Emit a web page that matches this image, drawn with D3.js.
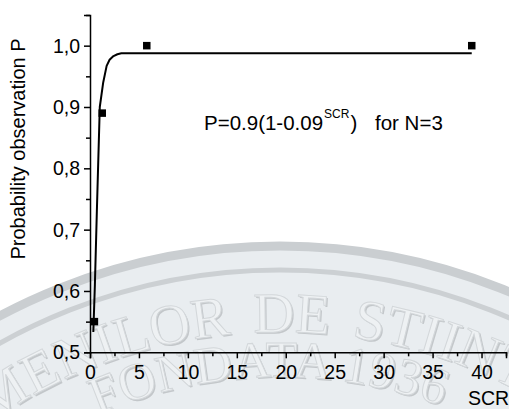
<!DOCTYPE html>
<html>
<head>
<meta charset="utf-8">
<script src="https://cdn.jsdelivr.net/npm/d3@7"></script>
<style>
  html, body { margin: 0; padding: 0; background: #ffffff; }
  svg { display: block; }
  text { font-family: "Liberation Sans", Arial, sans-serif; }
</style>
</head>
<body>
<svg id="chart" width="509" height="409"></svg>
<script>
// ---- data ----
const pointSCR = [0.45, 1.25, 5.8, 39];
const pointP   = [0.55, 0.89, 1.0, 1.0];
const fitSCR = [0.34, 0.5, 0.7, 1.0, 1.35, 1.7, 2.0, 2.4, 2.8, 3.2, 39];
const fitP   = [0.533, 0.61, 0.73, 0.9, 0.94, 0.967, 0.977, 0.983, 0.986, 0.9876, 0.9876];
const xTicks = [0, 5, 10, 15, 20, 25, 30, 35, 40];
const xMinorTicks = [2.5, 7.5, 12.5, 17.5, 22.5, 27.5, 32.5, 37.5, 42.5];
const yTicks = [0.5, 0.6, 0.7, 0.8, 0.9, 1.0];
const yMinorTicks = [0.55, 0.65, 0.75, 0.85, 0.95, 1.05];
const xLabel = "SCR";
const yLabel = "Probability observation P";

const svg = d3.select("#chart");

// ---- watermark seal (background decoration) ----
const wm = svg.append("g").attr("class", "watermark");
const cx = 280, cy = 842, R = 596;
wm.append("circle").attr("cx", cx).attr("cy", cy).attr("r", R)
  .attr("fill", "#e9edf0").attr("stroke", "#caced1").attr("stroke-width", 9);
wm.append("circle").attr("cx", cx).attr("cy", cy).attr("r", R - 24)
  .attr("fill", "none").attr("stroke", "#ccd0d3").attr("stroke-width", 5);
const defs = svg.append("defs");
function arcPath(r) {
  return `M ${cx - r},${cy} A ${r},${r} 0 0 1 ${cx + r},${cy}`;
}
const r1 = 510, r2 = 465;
defs.append("path").attr("id", "arc1").attr("d", arcPath(r1));
defs.append("path").attr("id", "arc2").attr("d", arcPath(r2));
const arcLen1 = Math.PI * r1, arcLen2 = Math.PI * r2;
function sealText(href, offset, size, str, wordSp) {
  [[1.6, "#c3c7ca", "none"], [0, "#eef1f3", "#d3d7da"]].forEach(([d, fill, stroke]) => {
    const t = wm.append("text")
      .style("font-family", "'Liberation Serif', 'DejaVu Serif', serif")
      .attr("font-size", size).attr("word-spacing", wordSp)
      .attr("transform", `translate(${d},${d})`)
      .attr("fill", fill).attr("stroke", stroke).attr("stroke-width", 1);
    t.append("textPath").attr("href", href).attr("startOffset", offset).text(str);
  });
}
sealText("#arc1", arcLen1 / 2 - 34 - 357, 57, "OAMENILOR DE STIINTA", 8);
sealText("#arc2", arcLen2 / 2 - 188, 52, "FONDATA 1936", 0);

// ---- scales ----
const x = d3.scaleLinear().domain([0, 42.5]).range([90, 506]);
const y = d3.scaleLinear().domain([0.5, 1.05]).range([352.3, 15]);

const fmt = d => d3.format(".1f")(d).replace(".", ",");

// x axis
const gx = svg.append("g").attr("transform", `translate(0,${y(0.5)})`);
gx.call(d3.axisBottom(x).tickValues(xTicks).tickSize(6).tickPadding(7).tickFormat(d3.format("d")));
gx.append("g").call(d3.axisBottom(x).tickValues(xMinorTicks).tickSize(4).tickFormat(""))
  .select(".domain").remove();
// y axis
const gy = svg.append("g").attr("transform", `translate(${x(0)},0)`);
gy.call(d3.axisLeft(y).tickValues(yTicks).tickSize(6).tickPadding(4).tickFormat(fmt));
gy.append("g").call(d3.axisLeft(y).tickValues(yMinorTicks).tickSize(4).tickFormat(""))
  .select(".domain").remove();

svg.selectAll(".domain").attr("stroke", "#000").attr("stroke-width", 1.5);
svg.selectAll(".tick line").attr("stroke", "#000").attr("stroke-width", 1.5);
svg.selectAll(".tick text").attr("fill", "#000")
  .style("font-family", "'Liberation Sans', Arial, sans-serif").style("font-size", "19.5px");
gy.selectAll(".tick text").attr("dy", "0.34em");

// axis labels
svg.append("text").attr("x", 468).attr("y", 405)
  .attr("font-size", 19.5).attr("fill", "#000").text(xLabel);
svg.append("text")
  .attr("transform", `translate(25,149) rotate(-90)`)
  .attr("text-anchor", "middle").attr("font-size", 20).attr("fill", "#000")
  .text(yLabel);

// fit line
const fitData = fitSCR.map((s, i) => [s, fitP[i]]);
svg.append("path").datum(fitData)
  .attr("fill", "none").attr("stroke", "#000").attr("stroke-width", 2)
  .attr("stroke-linejoin", "round")
  .attr("d", d3.line().x(d => x(d[0])).y(d => y(d[1])));

// points
const ms = 7.5;
svg.selectAll("rect.pt").data(pointSCR.map((s, i) => [s, pointP[i]]))
  .join("rect").attr("class", "pt")
  .attr("x", d => x(d[0]) - ms / 2).attr("y", d => y(d[1]) - ms / 2)
  .attr("width", ms).attr("height", ms).attr("fill", "#000");

// annotation
const ann = svg.append("text").attr("x", 204).attr("y", 130)
  .attr("font-size", 20.5).attr("fill", "#000");
ann.append("tspan").text("P=0.9(1-0.09");
ann.append("tspan").attr("font-size", 12).attr("dx", 1).attr("dy", -12.5).text("SCR");
ann.append("tspan").attr("dx", 1).attr("dy", 12.5).text(")");
ann.append("tspan").attr("x", 375).text("for N=3");
</script>
</body>
</html>
